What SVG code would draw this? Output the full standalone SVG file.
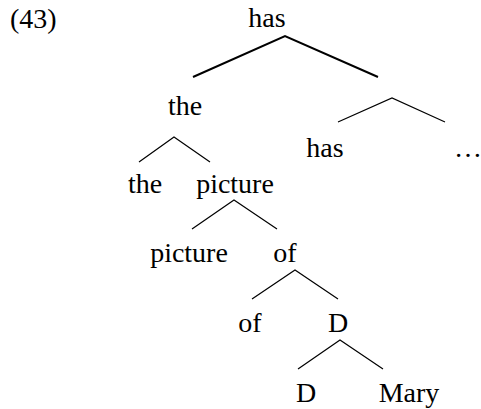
<svg xmlns="http://www.w3.org/2000/svg" width="481" height="409" viewBox="0 0 481 409">
<style>
text{font-family:"Liberation Serif","Times New Roman",serif;font-size:28px;fill:#000;text-anchor:middle}
.e{stroke:#000;stroke-width:1.2;fill:none}
.t{stroke:#000;stroke-width:2;fill:none}
</style>
<rect width="481" height="409" fill="#fff"/>
<text x="10" y="28" style="text-anchor:start">(43)</text>
<g id="connectors">
<polyline class="t" points="193,77 285,36 378,77"/>
<polyline class="e" points="338,122 392,98 445,122"/>
<polyline class="e" points="139,162 174,137 210,162"/>
<polyline class="e" points="192,229 234,200 277,229"/>
<polyline class="e" points="252,299 295,270 338,299"/>
<polyline class="e" points="298,369 340,340 383,369"/>
</g>
<g id="n-has-root"><text x="267" y="27">has</text></g>
<g id="n-the-np"><text x="185" y="115">the</text></g>
<g id="n-has"><text x="325" y="157">has</text></g>
<g id="n-dots"><text x="468" y="157">…</text></g>
<g id="n-the"><text x="145" y="193">the</text></g>
<g id="n-picture-np"><text x="235" y="193">picture</text></g>
<g id="n-picture"><text x="189" y="262">picture</text></g>
<g id="n-of-pp"><text x="285" y="262">of</text></g>
<g id="n-of"><text x="250" y="332">of</text></g>
<g id="n-D-dp"><text x="338" y="332">D</text></g>
<g id="n-D"><text x="306" y="402">D</text></g>
<g id="n-Mary"><text x="409" y="402">Mary</text></g>
</svg>
